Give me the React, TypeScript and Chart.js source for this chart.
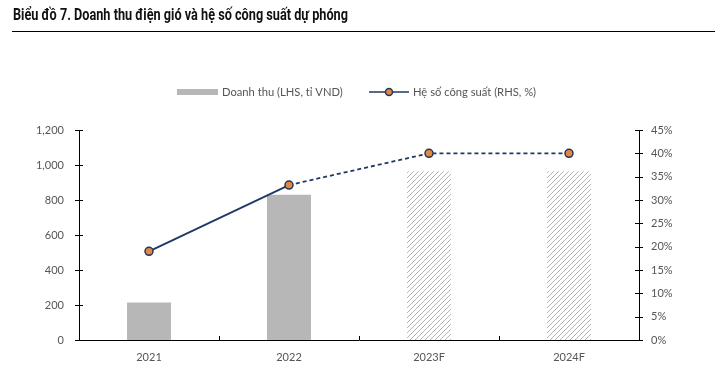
import React, { useEffect, useRef } from "react";
import { Chart, registerables } from "chart.js";

Chart.register(...registerables);

const categories = ["2021", "2022", "2023F", "2024F"];
const revenue = [215, 830, 965, 965];
const capacityFactor = [19, 33.2, 40, 40];
const forecastFlags = [false, false, true, true];
const revenueLabel = "Doanh thu (LHS, tỉ VND)";
const capacityLabel = "Hệ số công suất (RHS, %)";
const titleText = "Biểu đồ 7. Doanh thu điện gió và hệ số công suất dự phóng";

const FONT = "Lato, 'Noto Sans', sans-serif";
const NAVY = "#1f3864";
const ORANGE = "#e8873a";
const GRAY = "#b7b7b7";

function makeHatch(): CanvasPattern | string {
  const s = 5;
  const c = document.createElement("canvas");
  c.width = s;
  c.height = s;
  const g = c.getContext("2d");
  if (!g) return GRAY;
  g.fillStyle = "#ffffff";
  g.fillRect(0, 0, s, s);
  g.strokeStyle = "#b4b4b4";
  g.lineWidth = 1;
  g.beginPath();
  g.moveTo(0, s);
  g.lineTo(s, 0);
  g.moveTo(-1, 1);
  g.lineTo(1, -1);
  g.moveTo(s - 1, s + 1);
  g.lineTo(s + 1, s - 1);
  g.stroke();
  const p = g.createPattern(c, "repeat");
  return p || GRAY;
}

const tickPlugin = {
  id: "customTicks",
  afterDraw(chart: any) {
    const ctx = chart.ctx;
    ctx.save();
    ctx.strokeStyle = "#000";
    ctx.lineWidth = 1;
    ["y", "y1"].forEach((id) => {
      const sc = chart.scales[id];
      const x = id === "y" ? sc.right : sc.left;
      sc.ticks.forEach((_t: any, i: number) => {
        const yy = Math.round(sc.getPixelForTick(i)) + 0.5;
        ctx.beginPath();
        ctx.moveTo(x - 4, yy);
        ctx.lineTo(x + 4, yy);
        ctx.stroke();
      });
    });
    const xs = chart.scales.x;
    const n = categories.length;
    const w = (xs.right - xs.left) / n;
    for (let i = 1; i < n; i++) {
      const xx = Math.round(xs.left + w * i) + 0.5;
      ctx.beginPath();
      ctx.moveTo(xx, xs.top);
      ctx.lineTo(xx, xs.top - 4);
      ctx.stroke();
    }
    // legend
    ctx.fillStyle = GRAY;
    ctx.fillRect(177, 89, 41, 6);
    ctx.font = "11.2px " + FONT;
    ctx.fillStyle = "#555555";
    ctx.textBaseline = "middle";
    ctx.textAlign = "left";
    ctx.fillText(revenueLabel, 222, 92);
    ctx.strokeStyle = NAVY;
    ctx.lineWidth = 1.5;
    ctx.beginPath();
    ctx.moveTo(369, 92);
    ctx.lineTo(409, 92);
    ctx.stroke();
    ctx.beginPath();
    ctx.arc(389, 92, 3.5, 0, Math.PI * 2);
    ctx.fillStyle = ORANGE;
    ctx.fill();
    ctx.stroke();
    ctx.fillStyle = "#555555";
    ctx.fillText(capacityLabel, 413, 92);
    ctx.restore();
  },
};

export default function App() {
  const ref = useRef<HTMLCanvasElement>(null);
  const titleRef = useRef<HTMLSpanElement>(null);
  useEffect(() => {
    document.body.style.margin = "0";
    if (titleRef.current) {
      const w = titleRef.current.getBoundingClientRect().width;
      if (w > 0) titleRef.current.style.transform = `scaleX(${335 / w})`;
    }
    if (!ref.current) return;
    const hatch = makeHatch();
    const barColors = forecastFlags.map((f) => (f ? hatch : GRAY));
    const chart = new Chart(ref.current, {
      type: "bar",
      data: {
        labels: categories,
        datasets: [
          {
            type: "line",
            label: capacityLabel,
            data: capacityFactor,
            yAxisID: "y1",
            borderColor: NAVY,
            borderWidth: 1.8,
            pointRadius: 4,
            pointBackgroundColor: ORANGE,
            pointBorderColor: NAVY,
            pointBorderWidth: 1.5,
            order: 0,
            segment: {
              borderDash: (c: any) => (c.p0DataIndex >= 1 ? [4, 3] : undefined),
            },
          } as any,
          {
            type: "bar",
            label: revenueLabel,
            data: revenue,
            yAxisID: "y",
            backgroundColor: barColors as any,
            borderWidth: 0,
            categoryPercentage: 1,
            barPercentage: 0.314,
            order: 1,
          },
        ],
      },
      options: {
        animation: false,
        responsive: false,
        maintainAspectRatio: false,
        layout: { padding: { top: 130, left: 0, right: 0, bottom: 0 } },
        plugins: { legend: { display: false }, tooltip: { enabled: false }, title: { display: false } },
        scales: {
          x: {
            grid: { display: false },
            border: { display: true, color: "#000", width: 1 },
            ticks: { color: "#555555", font: { family: FONT, size: 11 }, padding: 3 },
            afterFit: (s: any) => {
              s.height = 42;
            },
          },
          y: {
            position: "left",
            min: 0,
            max: 1200,
            grid: { display: false, drawTicks: false },
            border: { display: true, color: "#000", width: 1 },
            ticks: {
              stepSize: 200,
              color: "#555555",
              font: { family: FONT, size: 11 },
              padding: 15,
              callback: (v: any) => Number(v).toLocaleString("en-US"),
            },
            afterFit: (s: any) => {
              s.width = 79;
            },
          },
          y1: {
            position: "right",
            min: 0,
            max: 45,
            grid: { display: false, drawTicks: false },
            border: { display: true, color: "#000", width: 1 },
            ticks: {
              stepSize: 5,
              color: "#555555",
              font: { family: FONT, size: 11 },
              padding: 12,
              callback: (v: any) => v + "%",
            },
            afterFit: (s: any) => {
              s.width = 84;
            },
          },
        },
      },
      plugins: [tickPlugin],
    });
    return () => chart.destroy();
  }, []);
  return (
    <div style={{ position: "relative", width: 723, height: 382, background: "#fff" }}>
      <span
        ref={titleRef}
        style={{
          position: "absolute",
          left: 13,
          top: 6,
          display: "inline-block",
          transformOrigin: "0 0",
          fontFamily: "Roboto, 'Noto Sans', sans-serif",
          fontWeight: "bold",
          fontSize: 17,
          lineHeight: "17px",
          color: "#111",
          whiteSpace: "nowrap",
        }}
      >
        {titleText}
      </span>
      <div
        style={{
          position: "absolute",
          left: 12,
          top: 31,
          width: 703,
          height: 0,
          borderTop: "1.5px solid #000",
        }}
      />
      <canvas ref={ref} width={723} height={382} style={{ display: "block" }} />
    </div>
  );
}
